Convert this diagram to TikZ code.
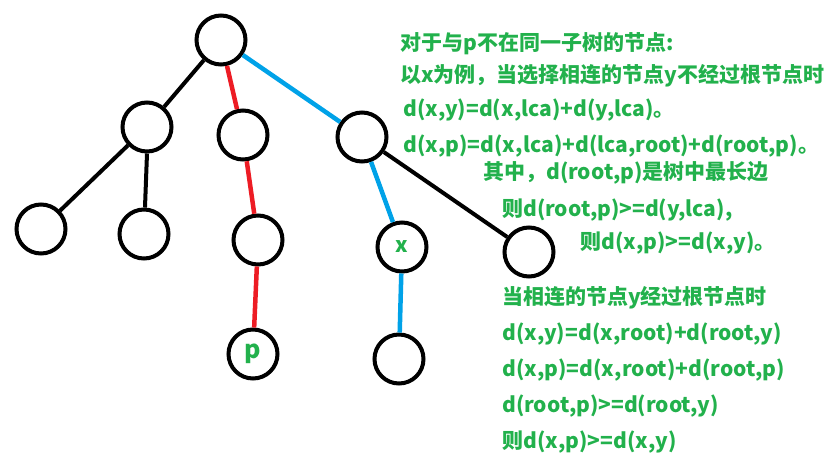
\documentclass[tikz,border=0pt]{standalone}
\usepackage{fontspec}
\newfontfamily\cjk{Noto Sans CJK SC}
\definecolor{tgreen}{HTML}{22B14C}
\definecolor{tred}{HTML}{ED1C24}
\definecolor{tblue}{HTML}{00A2E8}
\tikzset{
  tn/.style={circle,draw=black,line width=4pt,minimum size=49pt,inner sep=0pt,
    font=\cjk\bfseries\fontsize{21}{21}\selectfont,text=tgreen},
  blk/.style={draw=black,line width=4pt},
  redl/.style={draw=tred,line width=4.5pt},
  bluel/.style={draw=tblue,line width=4.5pt},
  txt/.style={anchor=west,inner sep=0pt,text=tgreen,font=\cjk\bfseries\fontsize{21}{21}\selectfont}
}
\begin{document}
\begin{tikzpicture}[x=1pt,y=-1pt]
\useasboundingbox (0,0) rectangle (833,466);
\node[tn] (root) at (221,40) {};
\node[tn] (a) at (147,127) {};
\node[tn] (b) at (243,135) {};
\node[tn] (c) at (362,137) {};
\node[tn] (a1) at (41,229) {};
\node[tn] (a2) at (144,234) {};
\node[tn] (b1) at (258,240) {};
\node[tn] (x) at (402,247) {x};
\node[tn] (c2) at (529,252) {};
\node[tn,font=\cjk\bfseries\fontsize{25}{25}\selectfont] (p) at (253,354) {p};
\node[tn] (x1) at (399,359) {};
\draw[blk] (root) -- (a);
\draw[redl] (root) -- (b);
\draw[bluel] (root) -- (c);
\draw[blk] (a) -- (a1);
\draw[blk] (a.south) -- (a2);
\draw[redl] (b) -- (b1);
\draw[redl] (b1) -- (p);
\draw[bluel] (c) -- (x);
\draw[blk] (c) -- (c2);
\draw[bluel] (x) -- (x1);
\node[txt] (t1) at (400,44) {对于与p不在同一子树的节点:};
\node[txt] (t2) at (400,76) {以x为例，当选择相连的节点y不经过根节点时};
\node[txt] (t3) at (403,110) {d(x,y)=d(x,lca)+d(y,lca)。};
\node[txt] (t4) at (403,146) {d(x,p)=d(x,lca)+d(lca,root)+d(root,p)。};
\node[txt] (t5) at (483,173) {其中，d(root,p)是树中最长边};
\node[txt] (t6) at (502,210) {则d(root,p)>=d(y,lca),};
\node[txt] (t7) at (580,243) {则d(x,p)>=d(x,y)。};
\node[txt] (t8) at (502,298) {当相连的节点y经过根节点时};
\node[txt] (t9) at (502,334) {d(x,y)=d(x,root)+d(root,y)};
\node[txt] (t10) at (502,370) {d(x,p)=d(x,root)+d(root,p)};
\node[txt] (t11) at (502,406) {d(root,p)>=d(root,y)};
\node[txt] (t12) at (502,442) {则d(x,p)>=d(x,y)};
\end{tikzpicture}
\end{document}
